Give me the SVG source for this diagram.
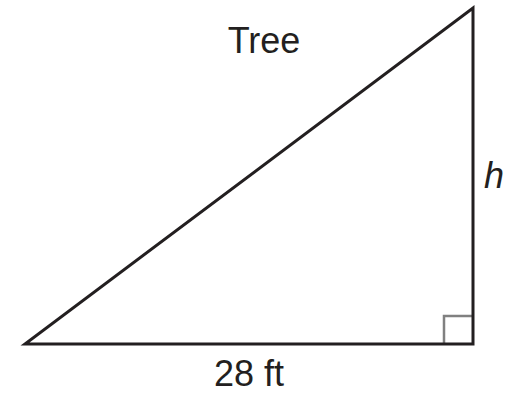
<svg xmlns="http://www.w3.org/2000/svg" width="521" height="394" viewBox="0 0 521 394">
<style>
.edge{fill:none;stroke:#231f20;stroke-width:3;stroke-linecap:square;stroke-linejoin:miter}
.mark{fill:none;stroke:#808080;stroke-width:2.5}
.lbl{font-family:"Liberation Sans",Arial,sans-serif;font-size:36px;fill:#231f20}
</style>
<rect width="521" height="394" fill="#ffffff"/>
<g id="connectors">
<polyline class="mark" points="444,343 444,316 472,316"/>
<polygon class="edge" points="25,344 473,344 473,8"/>
</g>
<g id="tree"><text class="lbl" x="264" y="53" text-anchor="middle">Tree</text></g>
<g id="h"><text class="lbl" x="484" y="188" font-style="italic" font-size="38">h</text></g>
<g id="base"><text class="lbl" x="249" y="386" text-anchor="middle" font-size="34">28 ft</text></g>
</svg>
